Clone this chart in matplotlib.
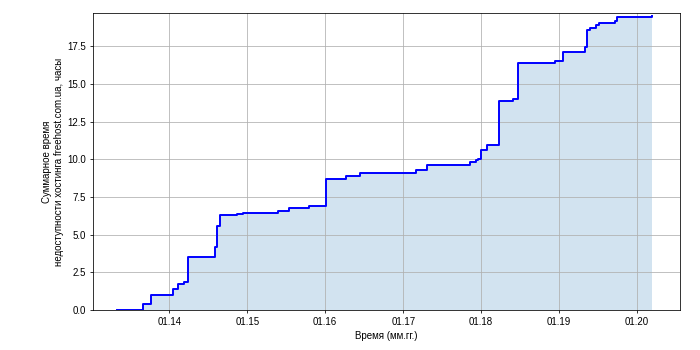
import matplotlib
matplotlib.use("Agg")
import matplotlib.pyplot as plt
import matplotlib.dates as mdates
import numpy as np
import pandas as pd

plt.rcParams['font.family'] = ['Liberation Sans', 'DejaVu Sans']

dates = ["2013-05-01", "2013-09-01", "2013-10-08", "2014-01-18", "2014-02-10",
         "2014-03-10", "2014-03-28", "2014-08-01", "2014-08-13", "2014-08-27",
         "2014-11-16", "2014-12-10", "2015-05-23", "2015-07-16", "2015-10-18",
         "2016-01-07", "2016-04-06", "2016-06-11", "2017-03-04", "2017-04-20",
         "2017-11-11", "2017-12-06", "2017-12-19", "2017-12-30", "2018-01-26",
         "2018-03-25", "2018-05-28", "2018-06-23", "2018-12-12", "2019-01-17",
         "2019-05-01", "2019-05-12", "2019-05-28", "2019-06-25", "2019-07-07",
         "2019-09-18", "2019-10-01", "2020-03-12"]
hours = [0.03, 0.42, 1.02, 1.38, 1.73,
         1.87, 3.51, 4.18, 5.56, 6.29,
         6.36, 6.45, 6.55, 6.78, 6.89,
         8.67, 8.89, 9.13, 9.33, 9.62,
         9.82, 9.93, 10.04, 10.62, 10.93,
         13.87, 14.00, 16.41, 16.50, 17.10,
         17.47, 18.58, 18.73, 18.93, 19.02,
         19.16, 19.44, 19.49]

x_label = "Время (мм.гг.)"
y_label = "Суммарное время\nнедоступности хостинга freehost.com.ua, часы"

t = pd.to_datetime(dates)

fig = plt.figure(figsize=(10, 5), dpi=70)
ax = fig.add_axes([0.133, 0.114, 0.838, 0.849])

ax.fill_between(t, 0, hours, step='post', color='C0', alpha=0.2, linewidth=0)
ax.plot(t, hours, drawstyle='steps-post', color='blue', linewidth=2)

ax.set_xlim(pd.Timestamp("2013-01-09"), pd.Timestamp("2020-07-19"))
ax.set_ylim(0, 19.72)
ax.xaxis.set_major_locator(mdates.YearLocator())
ax.xaxis.set_major_formatter(mdates.DateFormatter('%m.%y'))
ax.set_yticks(np.arange(0, 17.6, 2.5))
ax.grid(True)
ax.set_xlabel(x_label)
ax.set_ylabel(y_label)

fig.savefig("out.png", dpi=70)
